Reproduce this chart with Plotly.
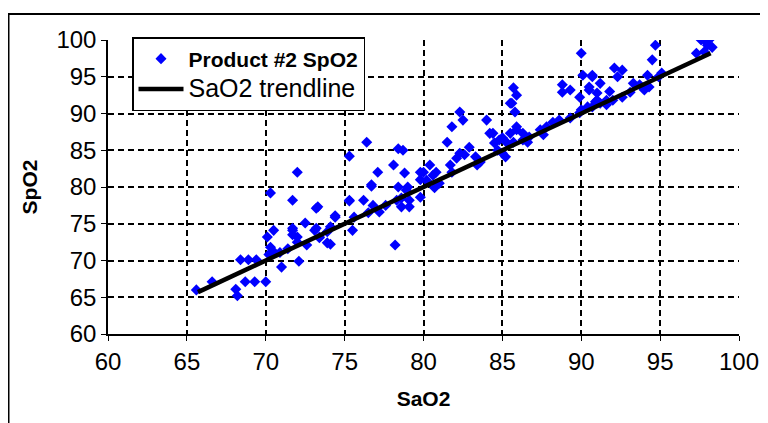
import plotly.graph_objects as go

# Product #2 SpO2 readings versus reference SaO2
sao2 = [
    65.6, 66.6, 68.1, 68.2, 68.4, 68.9, 69.4, 68.7, 69.3, 70.0, 70.2, 70.5, 70.1, 70.5,
    71.0, 70.9, 71.4, 71.7, 71.7, 72.0, 72.1, 72.5, 72.6, 73.2, 73.2, 73.4, 73.9, 71.7,
    70.3, 72.0, 76.4, 75.3, 77.1, 78.1, 78.4, 76.7, 73.3, 74.4, 75.3, 78.2, 82.3, 82.5,
    81.8, 84.0, 81.5, 78.7, 78.8, 85.5, 85.8, 90.1, 90.7, 88.8, 89.3, 88.8, 89.9, 90.5,
    91.0, 85.7, 85.9, 85.6, 90.0, 94.7, 94.5, 97.6, 98.0, 97.3, 97.8, 98.3, 92.1, 92.6,
    92.3, 90.7, 91.2, 94.2, 93.3, 94.3, 91.8, 92.6, 92.0, 90.0,
    76.7, 75.3, 76.2, 76.8, 77.2, 76.5, 75.6, 74.4, 74.1, 75.5, 78.6, 79.0, 78.6, 79.1,
    79.8, 80.2, 80.6, 79.8, 80.0, 80.4, 80.8, 81.7, 81.8, 81.0, 80.7, 79.8, 78.9, 78.4,
    79.1, 78.3, 77.6, 82.6, 83.3, 83.4, 82.9, 84.2, 84.5, 85.0, 85.0, 85.5, 85.7, 85.9,
    86.3, 86.6, 84.4, 84.8, 85.3, 84.7, 85.2, 85.9, 86.3, 86.7, 87.4, 87.8, 88.2, 88.6,
    87.6, 89.3, 89.9, 90.4, 90.9, 91.2, 91.6, 83.6, 90.5, 91.0, 91.6, 90.7, 93.1, 93.7,
    94.0, 94.9, 95.1, 71.7, 72.0, 73.1, 73.4, 73.9, 70.3, 82.3, 82.1, 74.1, 97.9, 98.1,
]
spo2 = [
    66.0, 67.1, 66.1, 65.2, 70.1, 70.1, 70.1, 67.1, 67.1, 67.1, 70.8, 71.2, 73.2, 74.1,
    69.1, 71.1, 71.6, 74.4, 73.5, 72.5, 69.9, 75.1, 72.1, 77.1, 74.4, 73.2, 73.9, 78.2,
    79.2, 82.0, 86.1, 84.2, 82.0, 83.0, 85.2, 80.3, 77.3, 76.1, 78.2, 72.1, 90.2, 89.1,
    88.2, 89.1, 86.1, 85.0, 81.9, 91.4, 90.2, 95.2, 95.2, 93.9, 93.2, 92.9, 92.2, 93.6,
    92.8, 93.5, 92.5, 91.4, 90.5, 99.3, 97.3, 100.0, 99.3, 98.2, 98.4, 99.0, 96.2, 95.9,
    95.0, 95.0, 94.1, 95.2, 94.1, 93.6, 93.0, 92.2, 91.8, 98.2,
    80.1, 78.1, 78.2, 77.5, 76.6, 76.5, 75.9, 75.9, 74.6, 74.1, 78.5, 80.0, 77.3, 77.3,
    78.6, 80.9, 81.6, 82.0, 82.0, 83.0, 82.0, 83.0, 82.0, 80.5, 79.9, 81.0, 79.6, 80.0,
    78.2, 78.2, 77.5, 84.4, 84.1, 83.0, 85.4, 87.3, 86.0, 86.7, 84.6, 87.3, 86.1, 88.2,
    87.3, 86.1, 87.3, 86.4, 86.0, 85.0, 84.1, 87.8, 86.4, 86.8, 87.8, 88.2, 88.8, 89.1,
    87.1, 89.4, 90.1, 90.9, 91.6, 91.4, 91.8, 83.4, 93.2, 91.8, 91.2, 90.9, 92.9, 93.9,
    93.2, 95.0, 95.5, 74.1, 73.2, 74.1, 73.1, 72.4, 71.8, 84.6, 83.9, 72.2, 99.8, 100.0,
]

# SaO2 trendline (identity line across the data range)
trend_x = [65.7, 98.2]
trend_y = [65.7, 98.2]

x_ticks = [60, 65, 70, 75, 80, 85, 90, 95, 100]
y_ticks = [60, 65, 70, 75, 80, 85, 90, 95, 100]

FONT = "Liberation Sans, Arial, sans-serif"

fig = go.Figure()
fig.add_trace(go.Scatter(
    x=sao2, y=spo2, mode="markers", name="<b>Product #2 SpO2</b>",
    marker=dict(symbol="diamond", size=8.5, color="#0000FF", line=dict(width=0)),
))
fig.add_trace(go.Scatter(
    x=trend_x, y=trend_y, mode="lines",
    name='<span style="font-size:25px">SaO2 trendline</span>',
    line=dict(color="black", width=4.5),
))

# page body has an 8px default margin; the figure is sized/placed to compensate
OFF = 8
W, H = 768 - OFF, 423 - OFF
L, R, T, B = 108 - OFF, 29, 40 - OFF, 89
pw, ph = W - L - R, H - T - B

axis_common = dict(
    showgrid=True, gridcolor="black", gridwidth=1.6, griddash="6px,4px",
    showline=True, linecolor="black", linewidth=1.5,
    ticks="outside", ticklen=5, tickcolor="black", tickwidth=1,
    zeroline=False, tickfont=dict(family=FONT, size=24, color="black"),
    tickmode="array", automargin=False,
)

fig.update_layout(
    width=W, height=H,
    margin=dict(l=L, r=R, t=T, b=B, autoexpand=False),
    paper_bgcolor="white", plot_bgcolor="white",
    font=dict(family=FONT, color="black"),
    xaxis=dict(range=[60, 100], tickvals=x_ticks,
               title=dict(text="<b>SaO2</b>", font=dict(family=FONT, size=21), standoff=18),
               **axis_common),
    yaxis=dict(range=[60, 100], tickvals=y_ticks,
               title=dict(text="<b>SpO2</b>", font=dict(family=FONT, size=21), standoff=13),
               **axis_common),
    legend=dict(
        x=(132 - OFF - L) / pw, y=1 + (T - (37 - OFF)) / ph, xanchor="left", yanchor="top",
        bgcolor="white", bordercolor="black", borderwidth=1.5,
        font=dict(family=FONT, size=21, color="black"), itemwidth=45,
    ),
    showlegend=True,
    shapes=[dict(
        type="rect", xref="paper", yref="paper",
        x0=(0.5 - L) / pw, x1=(W + 10 - L) / pw,
        y0=(H - (H + 10) - B) / ph, y1=1 + (T - (14 - OFF)) / ph,
        line=dict(color="black", width=2), fillcolor="rgba(0,0,0,0)", layer="below",
    )],
)

fig.write_html("out.html")
